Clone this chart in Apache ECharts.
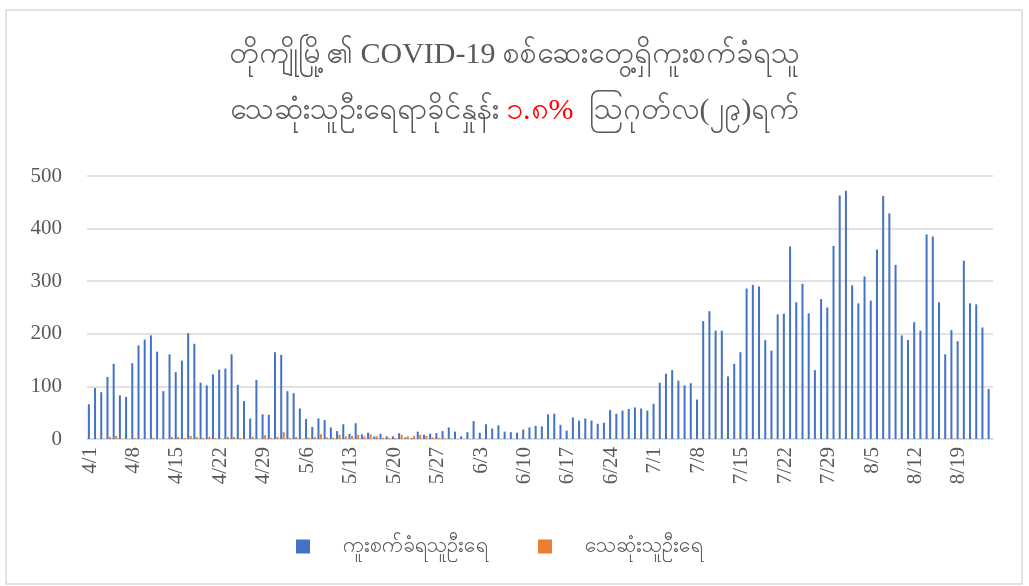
<!DOCTYPE html>
<html>
<head>
<meta charset="utf-8">
<script src="https://cdn.jsdelivr.net/npm/echarts@6/dist/echarts.min.js"></script>
<style>
  html, body { margin: 0; padding: 0; background: #fff; }
  #chart { width: 1029px; height: 586px; }
</style>
</head>
<body>
<div id="chart"></div>
<script>
// daily counts 4/1 .. 8/24
const months = [[4, 30], [5, 31], [6, 30], [7, 31], [8, 24]]
const dates = []
months.forEach(([m, n]) => {
  for (let d = 1; d <= n; d++) dates.push(m + '/' + d)
})

const cases = [
  // April
  66, 97, 89, 118, 143, 83, 80, 144, 178, 189, 197, 166, 91, 161, 127,
  149, 201, 181, 107, 102, 123, 132, 134, 161, 103, 72, 39, 112, 47, 46,
  // May
  165, 160, 91, 87, 58, 38, 23, 39, 36, 22, 15, 28, 10, 30, 9, 12,
  5, 10, 5, 5, 11, 3, 2, 14, 8, 10, 11, 15, 22, 14, 5,
  // June
  13, 34, 12, 28, 20, 26, 14, 13, 12, 18, 22, 25, 24, 47, 48,
  27, 16, 41, 35, 39, 35, 29, 31, 55, 48, 54, 57, 60, 58, 54,
  // July
  67, 107, 124, 131, 111, 102, 106, 75, 224, 243, 206, 206, 119, 143, 165, 286,
  293, 290, 188, 168, 237, 238, 366, 260, 295, 239, 131, 266, 250, 367, 463,
  // August
  472, 292, 258, 309, 263, 360, 462, 429, 331, 197, 188, 222,
  206, 389, 385, 260, 161, 207, 186, 339, 258, 256, 212, 95
]

const deaths = [
  // April
  0, 0, 0, 4, 6, 0, 0, 2, 0, 0, 2, 0, 0, 4, 4,
  2, 6, 4, 2, 4, 2, 0, 4, 4, 2, 0, 4, 0, 7, 2,
  // May
  4, 13, 2, 4, 0, 3, 4, 9, 3, 2, 8, 5, 6, 8, 5, 9,
  5, 2, 2, 2, 8, 5, 6, 8, 6, 3, 2, 1, 1, 0, 0,
  // June
  0, 0, 0, 0, 0, 0, 0, 0, 0, 0, 0, 0, 0, 0, 0,
  0, 0, 0, 1, 0, 0, 0, 0, 0, 0, 0, 0, 0, 0, 0,
  // July
  0, 0, 0, 0, 0, 0, 0, 0, 0, 0, 0, 0, 0, 0, 0, 0,
  0, 0, 0, 0, 0, 0, 0, 0, 0, 0, 0, 0, 0, 0, 0,
  // August
  0, 0, 0, 0, 0, 0, 0, 0, 0, 0, 0, 0,
  0, 0, 0, 0, 1, 1, 1, 0, 0, 0, 0, 0
]

const seriesNames = ['ကူးစက်ခံရသူဦးရေ', 'သေဆုံးသူဦးရေ']
const titleLine1 = 'တိုကျိုမြို့၏ COVID-19 စစ်ဆေးတွေ့ရှိကူးစက်ခံရသူ'
const titleLine2a = 'သေဆုံးသူဦးရေရာခိုင်နှုန်း '
const titleRate = '၁.၈%'
const titleLine2b = '  ဩဂုတ်လ(၂၉)ရက်'

const FONT = '"Liberation Serif", "DejaVu Serif", serif'
const GREY = '#595959'

const chart = echarts.init(document.getElementById('chart'))
chart.setOption({
  animation: false,
  textStyle: { fontFamily: FONT },
  graphic: [{
    type: 'rect',
    shape: { x: 6, y: 10, width: 1016, height: 574 },
    style: { fill: 'none', stroke: '#d9d9d9', lineWidth: 1.5 },
    silent: true
  }],
  title: {
    left: 'center',
    top: 22,
    text: '{a|' + titleLine1 + '}\n{a|' + titleLine2a + '}{r|' + titleRate + '}{a|' + titleLine2b + '}',
    textStyle: {
      fontWeight: 'normal',
      rich: {
        a: { fontFamily: FONT, fontSize: 30, fontWeight: 'normal', color: GREY, lineHeight: 56 },
        r: { fontFamily: FONT, fontSize: 30, fontWeight: 'normal', color: '#ff0000', lineHeight: 56 }
      }
    }
  },
  legend: {
    bottom: 24,
    left: 291,
    icon: 'rect',
    itemWidth: 14,
    itemHeight: 14,
    itemGap: 50,
    textStyle: { fontFamily: FONT, fontSize: 21, color: GREY, padding: [0, 0, 0, 28] },
    data: seriesNames
  },
  grid: { left: 87, right: 36, top: 176, bottom: 147, containLabel: false },
  xAxis: {
    type: 'category',
    data: dates,
    boundaryGap: true,
    axisLine: { lineStyle: { color: '#d9d9d9', width: 1.5 } },
    axisTick: { interval: 6, length: 7, lineStyle: { color: '#d9d9d9', width: 1.5 } },
    axisLabel: {
      interval: 6,
      rotate: 90,
      margin: 8,
      fontFamily: FONT,
      fontSize: 21,
      color: GREY
    }
  },
  yAxis: {
    type: 'value',
    min: 0,
    max: 500,
    interval: 100,
    axisLine: { show: false },
    axisTick: { show: false },
    axisLabel: { margin: 25, fontFamily: FONT, fontSize: 21, color: GREY },
    splitLine: { lineStyle: { color: '#d9d9d9', width: 1.5 } }
  },
  series: [{
    name: seriesNames[0],
    type: 'bar',
    data: cases,
    barWidth: 2,
    barGap: '25%',
    itemStyle: { color: '#4472c4' }
  }, {
    name: seriesNames[1],
    type: 'bar',
    data: deaths,
    barWidth: 2,
    itemStyle: { color: '#ed7d31' }
  }]
})
</script>
</body>
</html>
